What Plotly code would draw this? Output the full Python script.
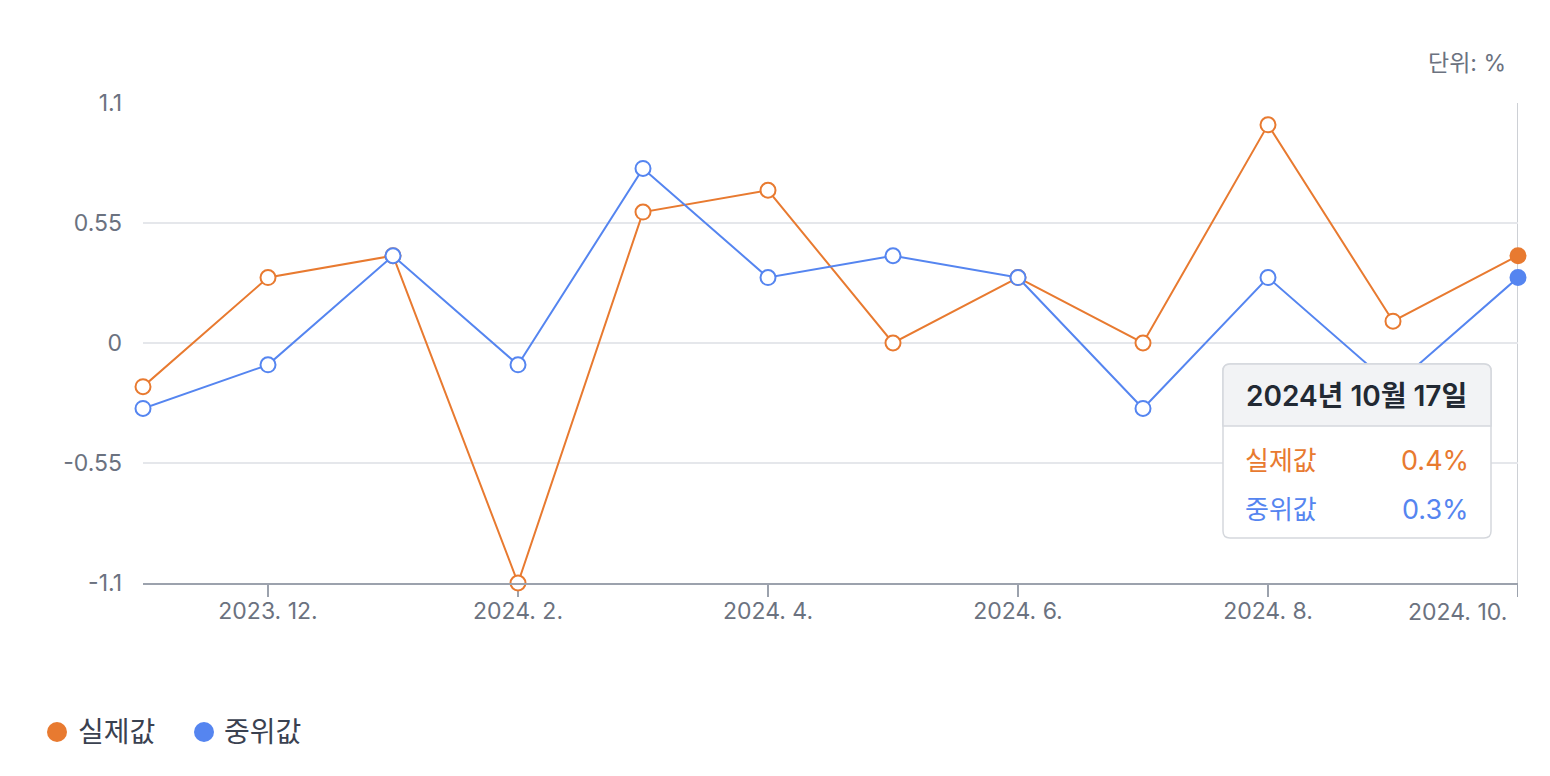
import plotly.graph_objects as go

months = ["2023-11", "2023-12", "2024-01", "2024-02", "2024-03", "2024-04",
          "2024-05", "2024-06", "2024-07", "2024-08", "2024-09", "2024-10"]
actual = [-0.2, 0.3, 0.4, -1.1, 0.6, 0.7, 0.0, 0.3, 0.0, 1.0, 0.1, 0.4]
median = [-0.3, -0.1, 0.4, -0.1, 0.8, 0.3, 0.4, 0.3, -0.3, 0.3, -0.2, 0.3]
tick_idx = [1, 3, 5, 7, 9, 11]
tick_labels = ["2023. 12.", "2024. 2.", "2024. 4.", "2024. 6.", "2024. 8.", "2024. 10."]
y_ticks = [-1.1, -0.55, 0, 0.55, 1.1]
y_tick_labels = ["-1.1", "-0.55", "0", "0.55", "1.1"]
names = ["실제값", "중위값"]
tooltip_title = "2024년 10월 17일"
unit_label = "단위: %"

ORANGE = "#E87A30"
BLUE = "#5585F0"
AXIS = "#9CA2AD"
FONT = "Inter, 'Noto Sans CJK KR', sans-serif"
TICK_SIZE = 23

# figure sits 8px inside the page (body margin)
OFF = 8
W, H = 1542, 768
L, T = 143 - OFF, 103 - OFF
PW, PH = 1375, 480
R = W - L - PW
B = H - T - PH

def fx(page_x):  # page pixel -> paper x
    return (page_x - OFF - L) / PW

def fy(page_y):  # page pixel -> paper y
    return (T + PH - (page_y - OFF)) / PH

def dx(page_x):  # page pixel -> data x
    return (page_x - 143) / 125.0

def dy(page_y):  # page pixel -> data y
    return (343 - page_y) / (240 / 1.1)

x = list(range(len(months)))
fig = go.Figure()

# crosshair at the hovered point
fig.add_shape(type="line", xref="x", yref="paper", x0=11, x1=11, y0=fy(597), y1=1.0,
              line=dict(color="#CDD0D5", width=2), layer="below")

# x tick marks
for ti in tick_idx:
    fig.add_shape(type="line", xref="x", yref="paper", x0=ti, x1=ti, y0=fy(583), y1=fy(597),
                  line=dict(color=AXIS, width=2), layer="below")

for vals, col in [(actual, ORANGE), (median, BLUE)]:
    fills = ["white"] * (len(vals) - 1) + [col]
    fig.add_trace(go.Scatter(
        x=x, y=vals, mode="lines+markers", showlegend=False,
        line=dict(color=col, width=2),
        marker=dict(size=15, color=fills, line=dict(color=col, width=2)),
        hoverinfo="skip", cliponaxis=False))

# tooltip box with rounded corners (data coordinates)
def rrect(x0p, x1p, y0p, y1p, r, top=True, bottom=True):
    rx, ry = r / 125.0, r / (240 / 1.1)
    a, b = dx(x0p), dx(x1p)
    c, d = dy(y1p), dy(y0p)  # c bottom (smaller), d top
    p = []
    if top:
        p.append(f"M{a},{d-ry} Q{a},{d} {a+rx},{d} L{b-rx},{d} Q{b},{d} {b},{d-ry}")
    else:
        p.append(f"M{a},{d} L{b},{d}")
    if bottom:
        p.append(f"L{b},{c+ry} Q{b},{c} {b-rx},{c} L{a+rx},{c} Q{a},{c} {a},{c+ry} Z")
    else:
        p.append(f"L{b},{c} L{a},{c} Z")
    return " ".join(p)

fig.add_shape(type="path", xref="x", yref="y", path=rrect(1223, 1491, 364, 538, 7),
              fillcolor="white", line=dict(color="#D5D8DD", width=1.5))
fig.add_shape(type="path", xref="x", yref="y", path=rrect(1223, 1491, 364, 426, 7, bottom=False),
              fillcolor="#F2F3F5", line=dict(color="#D5D8DD", width=1.5))

fig.add_annotation(x=dx(1244), y=dy(396), xref="x", yref="y", text=tooltip_title,
                   showarrow=False, xanchor="left", yanchor="middle",
                   font=dict(family=FONT, size=28, color="#222933", weight=600))
rows = [(names[0], f"{actual[-1]}%", ORANGE, 460), (names[1], f"{median[-1]}%", BLUE, 509)]
for nm, val, col, py in rows:
    fig.add_annotation(x=dx(1243), y=dy(py), xref="x", yref="y", text=nm,
                       showarrow=False, xanchor="left", yanchor="middle",
                       font=dict(family=FONT, size=26, color=col))
    fig.add_annotation(x=dx(1471), y=dy(py), xref="x", yref="y", text=val,
                       showarrow=False, xanchor="right", yanchor="middle",
                       font=dict(family=FONT, size=27, color=col))

# unit label
fig.add_annotation(x=fx(1508), y=fy(63), xref="paper", yref="paper", text=unit_label,
                   showarrow=False, xanchor="right", yanchor="middle",
                   font=dict(family=FONT, size=23, color="#6B7280"))

# last x tick label (clamped to right edge as in the reference)
fig.add_annotation(x=fx(1509), y=fy(612), xref="paper", yref="paper", text=tick_labels[-1],
                   showarrow=False, xanchor="right", yanchor="middle",
                   font=dict(family=FONT, size=TICK_SIZE, color="#6B7280"))

# manual legend
for nm, col, cx, tx in [(names[0], ORANGE, 57, 76), (names[1], BLUE, 204, 222)]:
    fig.add_shape(type="circle", xref="paper", yref="paper",
                  xsizemode="pixel", ysizemode="pixel",
                  xanchor=fx(cx), yanchor=fy(732), x0=-10, x1=10, y0=-10, y1=10,
                  fillcolor=col, line=dict(width=0))
    fig.add_annotation(x=fx(tx), y=fy(732), xref="paper", yref="paper", text=nm,
                       showarrow=False, xanchor="left", yanchor="middle",
                       font=dict(family=FONT, size=28, color="#3A4150"))

fig.update_layout(
    width=W, height=H,
    margin=dict(l=L, r=R, t=T, b=B),
    plot_bgcolor="white", paper_bgcolor="white",
    font=dict(family=FONT, color="#6B7280"),
    showlegend=False,
    xaxis=dict(range=[0, 11], tickvals=tick_idx, ticktext=tick_labels[:-1] + [""],
               showgrid=False, zeroline=False, showline=True, linecolor=AXIS, linewidth=2,
               ticks="", ticklabelstandoff=6,
               tickfont=dict(family=FONT, size=TICK_SIZE, color="#6B7280")),
    yaxis=dict(range=[-1.1, 1.1], tickvals=y_ticks, ticktext=y_tick_labels,
               showgrid=True, gridcolor="#E5E7EB", gridwidth=2, zeroline=False,
               showline=False, ticks="", ticklabelstandoff=20,
               tickfont=dict(family=FONT, size=TICK_SIZE, color="#6B7280")),
)

fig.write_html("out.html")
